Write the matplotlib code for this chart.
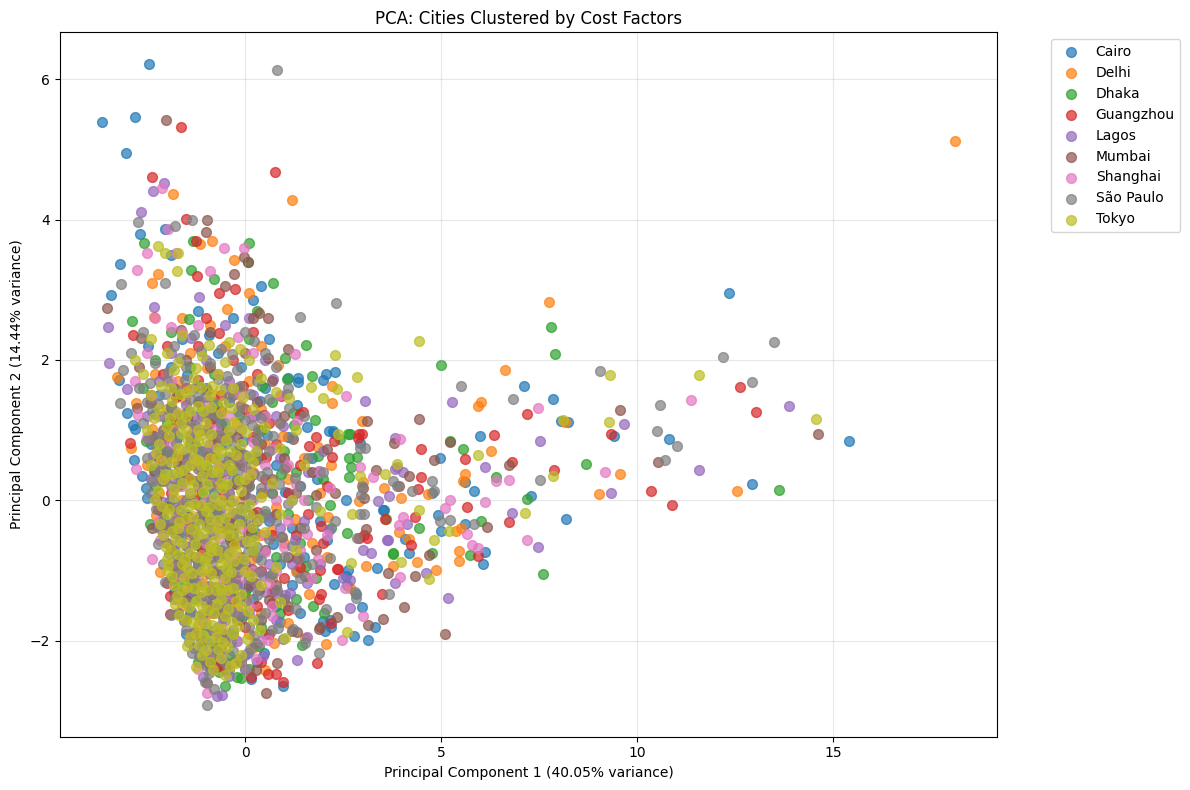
import matplotlib
matplotlib.use("Agg")
import matplotlib.pyplot as plt

cities = ["Cairo", "Delhi", "Dhaka", "Guangzhou", "Lagos", "Mumbai", "Shanghai", "São Paulo", "Tokyo"]

cairo = [(-2.44,6.21),(-3.64,5.39),(-2.80,5.46),(-3.03,4.95),(12.34,2.96),(15.4,0.85),(12.93,0.23),(10.82,0.87),(9.41,0.92),(7.12,1.63),(7.86,1.45),(8.07,1.13),(8.23,1.12),(8.19,-0.27),(7.28,0.06),(5.98,0.92),(4.96,0.61),(5.62,0.26),(5.83,0.14),(4.91,-0.21),(4.99,-0.43),(5.62,-0.34),(6.11,-0.74),(6.06,-0.90),(4.76,0.10),(-2.67,3.80),(-2.04,3.86),(-1.88,3.50),(-3.18,3.36),(-3.41,2.92),(-2.47,2.20),(0.41,3.05),(0.20,2.85),(-3.21,1.72),(-3.00,1.25),(-2.85,1.08),(-2.80,1.02),(-2.82,0.57),(-2.62,0.35),(-2.52,0.18),(-2.49,0.04),(-1.50,-1.90),(0.15,-2.55),(0.97,-2.65),(0.48,-2.18),(2.77,-1.93),(3.13,-1.99),(3.31,-1.80),(2.04,-1.86),(2.16,-1.70),(2.98,-1.52),(2.26,-1.19),(2.60,-1.21),(2.82,-1.33),(3.36,-0.96),(3.51,-0.13),(2.57,0.01),(2.26,0.96),(2.14,0.99),(2.24,0.99),(1.09,1.74),(1.35,1.74),(1.35,1.69),(1.98,1.72),(2.06,1.80),(2.29,1.83),(1.32,1.36),(2.93,0.82),(3.54,-0.14),(4.07,-0.55),(4.17,-0.75),(2.57,-1.08),(2.62,-0.99),(1.98,-1.72),(2.19,-1.80),(1.40,-1.61),(0.89,-1.73),
(-2.2,1.5),(-1.9,1.9),(-1.6,2.3),(-1.3,1.2),(-1.0,1.6),(-0.7,2.1),(-0.4,1.4),(-0.1,1.9),(0.2,1.2),(0.5,1.6),(-2.4,0.8),(-2.0,0.4),(-1.7,0.9),(-1.4,0.3),(-1.1,0.7),(-0.8,0.1),(-0.5,0.8),(-0.2,0.3),(0.1,0.6),(0.4,0.1),(0.8,0.5),(1.1,0.9),(1.4,0.2),(1.7,0.6),(-2.1,-0.3),(-1.8,-0.7),(-1.5,-0.2),(-1.2,-0.9),(-0.9,-0.4),(-0.6,-1.0),(-0.3,-0.5),(0.0,-0.1),(0.3,-0.8),(0.6,-0.3),(0.9,-0.9),(1.2,-0.4),(1.5,-0.8),(1.9,-0.3),(-1.8,-1.3),(-1.4,-1.6),(-1.0,-1.4),(-0.7,-1.8),(-0.4,-1.3),(-0.1,-1.7),(0.2,-1.4),(0.5,-1.9),(0.8,-1.5),(1.2,-1.2),(-1.1,-2.1),(-0.6,-2.3),(-0.2,-2.0),(0.3,-2.3),(-0.3,2.6),(0.6,2.3),(-1.2,2.7),
(-1.74,1.13),(-1.46,0.62),(-1.17,1.41),(-0.88,0.32),(-0.61,1.08),(-0.35,-0.23),(-0.04,0.84),(0.27,-0.47),(0.55,0.93),(-1.93,-0.03),(-1.62,-0.52),(-1.33,-1.21),(-1.05,0.03),(-0.76,-0.68),(-0.47,-1.57),(-0.18,0.53),(0.11,-1.23),(0.38,1.42),(-2.29,1.23),(-2.15,0.67),(-0.92,2.36),(-1.48,1.78),(0.72,-0.62),(1.02,0.12),(1.33,-1.02),(1.58,1.04),(1.83,0.31),(2.08,-0.56),(-0.83,-2.03),(0.08,-2.18)]

delhi = [(18.1,5.12),(1.20,4.28),(-1.83,4.37),(7.76,2.82),(6.62,1.86),(6.03,1.40),(5.93,1.35),(8.16,1.12),(9.55,0.38),(9.03,0.09),(12.54,0.14),(5.62,0.38),(5.57,0.27),(6.28,0.70),(5.37,-0.44),(5.52,-0.40),(5.45,-0.72),(5.45,-0.87),(4.66,0.09),(4.38,-0.88),(4.86,-0.99),(3.54,0.18),(3.99,0.04),(3.00,0.26),(2.90,-0.01),(3.92,-0.45),(4.17,-0.55),(3.77,-0.94),(3.08,-0.94),(2.67,-1.25),(2.06,-2.04),(1.53,-1.96),(0.74,-2.03),(1.09,-1.74),(2.21,1.63),(2.21,1.39),(2.98,1.13),(-1.15,3.65),(-0.84,3.69),(-0.28,3.42),(-2.21,3.22),(-2.37,3.09),(0.10,2.96),(-2.32,2.61),(-3.26,1.76),(-2.77,1.39),(-2.90,0.74),(-2.16,-1.02),
(-2.3,1.8),(-2.0,1.3),(-1.7,1.7),(-1.4,2.1),(-1.1,1.0),(-0.8,1.5),(-0.5,2.2),(-0.2,1.1),(0.1,1.7),(0.4,1.3),(0.9,1.1),(-2.5,0.5),(-2.2,0.1),(-1.9,0.6),(-1.6,0.0),(-1.3,0.5),(-1.0,-0.1),(-0.7,0.4),(-0.4,0.9),(-0.1,0.0),(0.2,0.4),(0.5,0.8),(0.8,-0.1),(1.1,0.3),(1.5,0.6),(1.9,0.1),(2.2,0.5),(-2.0,-0.6),(-1.7,-1.0),(-1.4,-0.5),(-1.1,-1.1),(-0.8,-0.7),(-0.5,-1.2),(-0.2,-0.6),(0.1,-1.0),(0.4,-0.5),(0.7,-1.1),(1.0,-0.6),(1.3,-1.0),(1.7,-0.6),(2.1,-0.8),(-1.6,-1.5),(-1.2,-1.8),(-0.9,-1.6),(-0.5,-2.0),(-0.2,-1.5),(0.1,-1.9),(0.4,-1.6),(0.7,-1.3),(-0.8,-2.2),(-0.3,-2.3),(0.2,-2.1),(-1.6,2.6),(-0.9,2.5),(0.4,2.2),
(-1.83,1.06),(-1.52,1.43),(-1.24,0.77),(-0.96,1.88),(-0.68,0.22),(-0.39,-0.38),(-0.12,1.36),(0.18,-0.83),(0.47,0.11),(-2.06,0.27),(-1.77,-0.27),(-1.47,-1.26),(-1.18,0.13),(-0.89,-1.03),(-0.59,-1.62),(-0.31,0.62),(0.02,-1.37),(0.33,1.02),(-2.38,1.02),(-2.27,-0.21),(0.66,-0.44),(0.97,0.92),(1.28,-0.27),(1.62,-1.33),(1.86,0.76),(2.12,-0.23),(-1.02,-2.27),(0.52,-2.42),(-0.46,2.73),(0.84,1.93)]

dhaka = [(7.79,2.47),(7.91,2.09),(5.01,1.93),(13.61,0.15),(7.61,-1.05),(8.70,0.52),(7.18,0.02),(5.22,0.85),(5.55,0.73),(6.39,0.34),(5.73,-0.78),(6.03,-0.30),(4.76,-0.75),(4.43,-0.40),(3.77,-0.77),(3.59,-0.26),(1.55,2.21),(1.78,1.15),(2.42,0.88),(2.62,0.95),(2.67,0.95),(2.65,0.60),(2.85,0.62),(2.70,0.47),(2.65,0.34),(2.60,-0.47),(3.77,-0.75),(1.70,1.77),(1.22,1.25),(1.02,2.03),(0.10,3.67),(0.08,3.39),(0.71,3.09),(-1.32,3.69),(-1.37,3.28),(-0.79,3.16),(-2.57,3.67),(-2.88,2.55),(-2.52,0.84),(-2.42,-0.34),(-0.66,-2.45),(-0.51,-2.65),(-0.20,-2.51),(-0.10,-2.53),(1.73,-1.50),(1.45,-2.06),(2.01,-1.60),
(-2.6,1.6),(-2.3,2.0),(-2.0,1.1),(-1.7,1.5),(-1.4,1.9),(-1.1,1.3),(-0.8,1.8),(-0.5,1.1),(-0.2,1.6),(0.1,2.3),(0.4,1.0),(0.7,1.4),(-2.3,0.2),(-2.0,0.7),(-1.7,0.2),(-1.4,0.8),(-1.1,0.1),(-0.8,0.6),(-0.5,0.2),(-0.2,0.7),(0.1,0.2),(0.4,0.6),(0.7,0.1),(1.0,0.7),(1.3,0.4),(1.6,0.0),(2.0,0.3),(-1.9,-0.4),(-1.6,-0.8),(-1.3,-0.3),(-1.0,-0.8),(-0.7,-0.2),(-0.4,-0.9),(-0.1,-0.3),(0.2,-0.7),(0.5,-0.2),(0.8,-0.8),(1.1,-0.2),(1.4,-0.6),(1.8,-1.1),(2.2,-0.4),(-1.7,-1.2),(-1.3,-1.4),(-1.0,-1.9),(-0.6,-1.5),(-0.3,-1.9),(0.0,-1.3),(0.4,-1.8),(0.9,-1.6),(1.3,-1.4),(-1.2,-2.3),(-0.4,-2.2),(0.1,-2.4),(0.3,2.7),(-1.9,2.4),
(-1.88,1.32),(-1.57,0.47),(-1.28,1.02),(-0.98,0.48),(-0.71,1.36),(-0.42,-0.52),(-0.14,1.22),(0.16,-0.47),(0.44,1.63),(-2.12,-0.17),(-1.82,-0.93),(-1.53,-1.12),(-1.23,-0.63),(-0.93,0.27),(-0.63,-1.27),(-0.33,0.43),(-0.03,-1.63),(0.27,0.88),(-2.42,1.38),(-2.31,0.42),(0.63,-1.07),(0.93,0.37),(1.24,1.07),(1.56,-0.93),(1.87,0.63),(2.17,-0.07),(-0.77,-2.12),(0.36,-2.07),(-1.42,2.58),(1.08,1.73)]

guangzhou = [(-1.63,5.32),(0.76,4.68),(-2.37,4.60),(-1.50,4.01),(-1.25,3.70),(-1.22,3.19),(-0.25,3.01),(-0.66,2.96),(-2.85,2.35),(-2.93,0.82),(-1.98,-1.18),(-1.91,-1.36),(-1.91,-1.62),(0.59,-2.47),(0.79,-2.47),(0.97,-2.58),(1.83,-2.31),(2.19,-1.74),(2.34,-0.98),(2.37,-0.98),(2.90,0.95),(2.98,0.95),(2.88,0.89),(2.26,0.84),(2.90,-0.54),(3.03,-0.50),(3.10,-0.54),(3.56,-0.26),(3.49,-1.33),(4.22,-0.64),(4.33,-0.24),(4.40,0.16),(4.50,0.33),(4.50,0.73),(5.62,0.59),(6.36,0.93),(7.18,1.23),(6.82,0.55),(7.89,0.43),(5.67,-0.10),(5.95,-0.79),(6.74,-0.31),(9.34,0.95),(12.62,1.62),(13.03,1.26),(10.36,0.13),(10.90,-0.06),(1.40,1.23),(1.48,1.26),(1.88,-1.40),(1.93,-1.33),(1.09,-1.56),(0.69,-1.46),(1.40,-0.95),(1.91,-0.99),
(-2.4,1.4),(-2.1,1.8),(-1.8,1.2),(-1.5,1.6),(-1.2,2.2),(-0.9,1.1),(-0.6,1.5),(-0.3,2.0),(0.0,1.3),(0.3,1.8),(0.6,1.1),(-2.2,0.6),(-1.9,0.1),(-1.6,0.6),(-1.3,0.0),(-1.0,0.4),(-0.7,0.9),(-0.4,0.0),(-0.1,0.5),(0.2,0.9),(0.5,0.3),(0.8,0.8),(1.1,0.1),(1.4,0.5),(1.8,0.9),(2.1,0.2),(-2.0,-0.4),(-1.7,-0.9),(-1.4,-0.4),(-1.1,-0.7),(-0.8,-1.0),(-0.5,-0.4),(-0.2,-0.9),(0.1,-0.4),(0.4,-1.0),(0.7,-0.5),(1.0,-1.1),(1.3,-0.5),(1.6,-0.2),(2.0,-0.6),(-1.6,-1.4),(-1.3,-1.9),(-0.9,-1.5),(-0.6,-1.9),(-0.3,-1.4),(0.0,-1.8),(0.3,-1.5),(0.6,-1.9),(1.0,-1.4),(-0.9,-2.3),(-0.5,-2.4),(0.4,-2.3),(-1.0,2.6),(0.2,2.4),(-2.0,2.2),
(-1.76,1.47),(-1.47,0.33),(-1.19,1.72),(-0.91,0.63),(-0.62,1.27),(-0.33,-0.62),(-0.06,1.63),(0.24,-1.17),(0.53,0.62),(-2.03,0.87),(-1.73,-0.42),(-1.44,-1.07),(-1.14,-0.22),(-0.84,-1.33),(-0.54,0.07),(-0.26,-1.12),(0.04,0.22),(0.31,-0.17),(-2.34,0.92),(-2.21,-0.12),(0.74,-1.27),(1.04,0.47),(1.33,-0.82),(1.63,0.78),(1.93,-0.37),(2.21,0.62),(-0.73,-2.37),(0.16,-2.52),(-0.66,2.38),(0.93,1.48)]

lagos = [(-2.06,4.52),(-2.34,4.40),(-2.65,4.11),(-1.17,2.89),(-2.32,2.75),(-3.49,2.47),(-3.46,1.96),(-3.00,1.59),(-1.07,-2.51),(-0.71,-2.79),(-0.59,-2.77),(1.32,-2.27),(2.67,-1.53),(2.49,-1.11),(2.67,-1.13),(3.21,-0.75),(3.00,-0.70),(3.64,-0.57),(3.38,-0.01),(3.66,0.06),(3.82,0.89),(3.82,0.45),(3.87,0.47),(4.02,0.40),(3.05,1.41),(3.61,-0.57),(4.12,-0.33),(4.61,-1.04),(3.82,-1.18),(5.29,1.40),(7.51,0.84),(6.13,0.48),(6.80,-0.18),(7.48,-0.67),(5.17,-1.39),(9.67,1.09),(9.34,0.10),(11.58,0.43),(13.87,1.35),(1.58,-1.94),(0.81,-1.32),(1.02,-1.35),(1.15,-1.32),
(-2.5,1.2),(-2.2,1.7),(-1.9,2.1),(-1.6,1.1),(-1.3,1.6),(-1.0,2.0),(-0.7,1.2),(-0.4,1.7),(-0.1,1.0),(0.2,1.5),(0.5,2.0),(0.8,1.2),(-2.4,0.3),(-2.1,0.8),(-1.8,0.3),(-1.5,0.7),(-1.2,0.2),(-0.9,0.8),(-0.6,0.3),(-0.3,0.6),(0.0,0.1),(0.3,0.7),(0.6,0.2),(0.9,0.6),(1.2,0.0),(1.6,0.4),(2.0,0.7),(-2.1,-0.5),(-1.8,-0.1),(-1.5,-0.9),(-1.2,-0.5),(-0.9,-0.1),(-0.6,-0.7),(-0.3,-0.2),(0.0,-0.9),(0.3,-0.3),(0.6,-0.9),(0.9,-0.4),(1.2,-0.9),(1.5,-0.3),(1.9,-0.9),(-1.7,-1.6),(-1.4,-1.3),(-1.1,-1.7),(-0.8,-1.3),(-0.5,-1.7),(-0.2,-1.2),(0.1,-1.6),(0.5,-1.3),(0.8,-1.7),(-1.0,-2.2),(-0.4,-2.5),(0.0,-2.2),(-0.5,2.5),(0.1,2.6),
(-1.81,0.97),(-1.51,1.36),(-1.22,0.53),(-0.93,1.27),(-0.64,-0.13),(-0.36,0.97),(-0.08,-0.58),(0.22,0.38),(0.49,-1.08),(-2.08,-0.02),(-1.79,-0.63),(-1.49,-1.37),(-1.19,0.98),(-0.89,-0.82),(-0.61,-1.42),(-0.29,0.23),(0.01,-1.21),(0.29,1.21),(-2.35,0.63),(-2.24,-0.36),(0.67,-0.23),(0.98,1.06),(1.27,-0.57),(1.57,-1.17),(1.88,0.42),(2.14,-0.42),(-0.87,-2.42),(0.47,-2.21),(-1.38,2.31),(0.72,1.73)]

mumbai = [(-2.01,5.42),(-0.97,3.99),(-0.99,3.82),(-0.03,3.47),(0.08,3.39),(-0.28,3.22),(-0.51,3.06),(-3.51,2.74),(-2.65,2.31),(0.59,2.60),(0.36,2.67),(1.09,2.16),(-2.75,1.32),(-2.37,-0.40),(-0.97,-2.31),(-0.97,-2.60),(0.53,-2.74),(0.81,-2.31),(1.88,-1.83),(1.20,-1.86),(1.32,-1.87),(0.25,-2.03),(1.91,-1.80),(2.34,-1.66),(3.13,-1.77),(3.51,-1.69),(4.05,-1.52),(3.64,-1.04),(4.33,-1.08),(4.68,-0.78),(3.08,-0.41),(3.03,0.04),(3.10,1.13),(3.33,0.43),(3.79,0.82),(3.92,0.21),(4.17,0.35),(4.43,1.16),(4.83,0.57),(5.23,0.83),(6.16,-0.38),(6.72,0.50),(9.57,1.29),(10.54,0.54),(14.60,0.95),(5.09,-1.90),(3.0,0.18),
(-2.7,1.9),(-2.4,1.5),(-2.1,1.0),(-1.8,1.6),(-1.5,2.0),(-1.2,1.4),(-0.9,1.9),(-0.6,1.0),(-0.3,1.5),(0.0,2.1),(0.3,1.4),(0.7,1.7),(1.0,1.2),(-2.3,0.4),(-2.0,-0.1),(-1.7,0.5),(-1.4,0.9),(-1.1,0.4),(-0.8,-0.1),(-0.5,0.5),(-0.2,0.9),(0.1,0.3),(0.4,0.8),(0.7,0.3),(1.0,0.6),(1.3,0.1),(1.7,0.4),(2.3,0.1),(-1.9,-0.7),(-1.6,-0.3),(-1.3,-0.8),(-1.0,-0.3),(-0.7,-0.8),(-0.4,-0.3),(-0.1,-0.8),(0.2,-0.2),(0.5,-0.7),(0.8,-0.2),(1.1,-0.8),(1.4,-0.4),(1.8,-0.7),(-1.8,-1.1),(-1.5,-1.7),(-1.2,-1.2),(-0.8,-1.6),(-0.5,-1.1),(-0.2,-1.7),(0.1,-1.2),(0.4,-1.7),(0.8,-1.2),(1.1,-1.5),(-1.1,-2.0),(-0.6,-2.1),(-0.1,-2.3),(-0.9,2.4),(0.2,2.6),
(-1.86,0.67),(-1.56,1.22),(-1.26,0.27),(-0.97,1.57),(-0.67,0.47),(-0.38,-0.57),(-0.11,0.67),(0.19,-0.98),(0.48,1.22),(-2.09,0.52),(-1.81,-0.42),(-1.51,-1.42),(-1.21,-0.07),(-0.92,-1.22),(-0.63,-0.38),(-0.33,-1.38),(-0.03,0.07),(0.28,0.57),(-2.41,0.87),(-2.26,0.02),(0.62,-1.42),(0.94,-0.52),(1.23,0.87),(1.53,-1.07),(1.82,0.07),(2.08,0.73),(-0.91,-2.32),(0.27,-2.42),(-1.63,2.42),(0.58,2.03),
(-1.37,1.13),(-0.78,0.83),(-1.68,-0.88),(-0.53,-1.57),(0.07,-0.47),(-1.07,-0.62),(-0.24,0.23),(-1.42,-0.23),(0.36,-1.28),(-0.82,1.17)]

shanghai = [(-2.11,4.45),(-1.96,3.86),(-0.53,3.59),(-0.03,3.59),(-2.49,3.53),(-1.76,3.52),(-2.75,3.28),(-0.89,3.26),(-2.72,1.22),(-2.77,0.44),(-2.37,-0.84),(-0.97,-2.75),(0.69,-1.65),(0.59,-1.99),(2.47,-1.99),(3.00,-1.65),(2.54,-1.25),(1.32,1.13),(2.57,1.49),(1.27,2.09),(2.93,0.47),(3.26,0.33),(3.94,0.88),(3.92,-0.35),(4.02,-0.24),(3.94,-1.09),(5.22,0.00),(5.11,-0.11),(6.11,-0.03),(5.65,-0.48),(5.78,-0.64),(5.93,-0.68),(6.39,0.27),(6.72,0.29),(7.48,1.32),(7.18,-0.57),(9.19,0.40),(11.37,1.43),
(-2.8,1.7),(-2.5,2.1),(-2.2,1.2),(-1.9,1.7),(-1.6,2.4),(-1.3,1.0),(-1.0,1.4),(-0.7,1.8),(-0.4,1.2),(-0.1,1.5),(0.2,2.1),(0.5,1.2),(0.9,1.5),(-2.5,0.9),(-2.2,0.3),(-1.9,0.8),(-1.6,0.2),(-1.3,0.6),(-1.0,0.0),(-0.7,0.5),(-0.4,0.1),(-0.1,0.6),(0.2,0.0),(0.5,0.5),(0.8,0.0),(1.1,0.5),(1.5,0.0),(1.9,0.4),(-2.2,-0.3),(-1.9,-0.9),(-1.6,-0.4),(-1.3,-1.0),(-1.0,-0.6),(-0.7,-0.3),(-0.4,-0.8),(-0.1,-0.4),(0.2,-1.0),(0.5,-0.5),(0.8,-1.0),(1.1,-0.3),(1.4,-0.7),(1.7,-1.1),(2.1,-0.5),(-1.7,-1.4),(-1.4,-1.9),(-1.1,-1.4),(-0.8,-1.9),(-0.5,-1.5),(-0.2,-2.0),(0.1,-1.5),(0.4,-2.0),(0.7,-1.5),(-1.2,-2.4),(-0.6,-2.2),(0.0,-2.4),(-2.3,2.6),(-1.2,2.5),
(-1.79,1.27),(-1.49,0.53),(-1.21,1.18),(-0.94,0.77),(-0.66,-0.53),(-0.37,1.62),(-0.09,-1.07),(0.21,0.83),(0.51,-0.73),(-2.04,0.56),(-1.76,-0.22),(-1.46,-0.67),(-1.16,-1.18),(-0.86,0.32),(-0.57,-1.12),(-0.27,-0.18),(0.04,0.42),(0.32,-1.22),(-2.36,1.47),(-2.18,-0.57),(0.69,0.73),(0.99,-0.67),(1.29,0.23),(1.59,-0.48),(1.86,-0.83),(2.16,0.17),(-0.95,-2.17),(0.27,-2.26),(-1.88,2.47),(-0.17,2.33),(-1.33,-0.27),(-0.73,1.02),(-1.02,-1.73),(-0.43,-1.37),(-1.62,-1.07),
(-0.52,0.37),(-1.12,0.42),(-0.27,-0.78),(-0.83,-0.43),(-1.42,0.93),(-0.62,-1.78),(0.12,1.18),(-1.83,0.13),(-0.18,-1.58),(0.62,-1.17)]

sao_paulo = [(0.81,6.13),(-2.72,3.96),(-1.78,3.91),(-1.35,4.00),(-2.04,3.09),(-3.16,3.08),(1.40,2.61),(2.32,2.81),(-3.18,1.39),(-1.35,-2.18),(-0.97,-2.91),(1.88,-2.18),(0.97,-1.97),(0.84,-1.82),(1.22,-1.83),(0.33,-1.69),(1.53,-2.03),(2.06,-1.55),(2.82,-1.39),(2.80,-1.31),(3.66,-1.33),(2.93,-0.20),(3.03,-0.20),(2.85,-0.54),(2.16,-0.82),(3.05,0.74),(2.93,0.74),(2.98,0.20),(2.95,0.07),(3.77,0.27),(3.87,0.21),(4.27,0.13),(4.78,0.27),(4.83,0.13),(4.96,-0.30),(5.22,-0.28),(5.83,-0.33),(5.52,1.63),(6.83,1.45),(7.53,0.29),(9.05,1.84),(12.19,2.04),(13.49,2.26),(12.93,1.69),(10.59,1.36),(10.51,0.99),(11.02,0.78),(10.71,0.57),(1.07,1.52),
(-2.6,2.4),(-1.3,2.35),(0.0,2.4),(-2.9,2.1),(-1.8,2.2),(-0.6,2.15),(0.5,2.1),(-3.1,1.85),(-2.3,1.95),(-1.5,1.9),(-0.9,1.95),(-0.2,1.85),(0.8,1.9),(-2.7,1.6),(-2.0,1.7),(-1.2,1.65),(-0.5,1.6),(0.3,1.7),(1.1,1.6),(-2.5,1.4),(-1.9,1.35),(-1.4,1.45),(-0.8,1.4),(-0.1,1.35),(0.6,1.45),(-2.6,1.1),(-2.1,1.2),(-1.6,1.1),(-1.1,1.2),(-0.6,1.1),(0.0,1.15),(0.9,1.1),(1.5,1.2),(-2.3,0.9),(-1.8,0.95),(-1.3,0.85),(-0.9,0.95),(-0.4,0.9),(0.3,0.85),(1.2,0.9),(-2.5,0.6),(-2.0,0.7),(-1.5,0.6),(-1.0,0.7),(-0.5,0.6),(0.0,0.65),(0.6,0.7),(1.6,0.6),(-2.2,0.4),(-1.7,0.35),(-1.2,0.45),(-0.7,0.35),(-0.2,0.4),(0.4,0.35),(1.0,0.45),(2.0,0.4),(-2.4,0.1),(-1.9,0.2),(-1.4,0.1),(-0.9,0.2),(-0.4,0.1),(0.1,0.2),(0.7,0.1),(1.4,0.2),(-2.1,-0.1),(-1.6,-0.05),(-1.1,-0.15),(-0.6,-0.05),(-0.1,-0.1),(0.5,-0.15),(1.1,-0.05),(1.8,-0.1),(-2.2,-0.4),(-1.8,-0.3),(-1.3,-0.4),(-0.8,-0.3),(-0.3,-0.4),(0.2,-0.35),(0.8,-0.3),(1.5,-0.4),(2.3,-0.3),(-2.0,-0.6),(-1.5,-0.65),(-1.0,-0.55),(-0.5,-0.65),(0.0,-0.6),(0.6,-0.55),(1.2,-0.65),(-2.1,-0.9),(-1.7,-0.8),(-1.2,-0.9),(-0.7,-0.8),(-0.2,-0.9),(0.4,-0.85),(1.0,-0.8),(1.7,-0.9),(-1.9,-1.1),(-1.4,-1.15),(-0.9,-1.05),(-0.4,-1.15),(0.1,-1.1),(0.7,-1.05),(1.4,-1.1),(-1.8,-1.4),(-1.3,-1.3),(-0.8,-1.4),(-0.3,-1.3),(0.3,-1.35),(1.0,-1.4),(-1.7,-1.6),(-1.2,-1.65),(-0.7,-1.55),(-0.2,-1.65),(0.5,-1.6),(1.3,-1.55),(-1.5,-1.85),(-1.0,-1.8),(-0.5,-1.9),(0.1,-1.8),(0.7,-1.85),(-1.3,-2.1),(-0.8,-2.05),(-0.3,-2.15),(0.3,-2.05),(-1.0,-2.35),(-0.5,-2.3),(0.0,-2.4),(-1.5,0.0),(-0.8,-0.2),(-1.2,0.7),(-0.5,-1.0),(-1.7,-0.5),(-0.3,0.3),(-1.0,1.0),(-0.9,-1.3),(-1.3,-0.6),(-0.6,0.8),(0.0,-0.3),(-1.4,-1.0),
(-2.05,1.52),(-1.78,1.23),(-1.52,1.72),(-1.27,1.08),(-1.02,1.47),(-0.73,1.22),(-0.46,1.77),(-0.17,1.28),(0.12,1.52),(0.42,1.18),(-2.27,0.77),(-2.01,0.52),(-1.76,0.82),(-1.51,0.48),(-1.26,0.74),(-1.01,0.43),(-0.76,0.68),(-0.51,0.42),(-0.26,0.77),(0.02,0.48),(0.28,0.62),(0.57,0.41),(-2.12,0.27),(-1.87,0.02),(-1.62,0.23),(-1.37,-0.02),(-1.12,0.28),(-0.87,-0.01),(-0.62,0.22),(-0.37,-0.03),(-0.12,0.27),(0.14,0.02),(0.41,0.18),(-2.07,-0.27),(-1.82,-0.47),(-1.57,-0.24),(-1.32,-0.48),(-1.07,-0.22),(-0.82,-0.48),(-0.57,-0.26),(-0.32,-0.47),(-0.07,-0.23),(0.19,-0.52),(0.47,-0.24),(-1.93,-0.76),(-1.68,-1.02),(-1.43,-0.78),(-1.18,-1.01),(-0.93,-0.73),(-0.68,-1.04),(-0.43,-0.73),(-0.18,-1.02),(0.08,-0.74),(0.35,-1.02),(-1.74,-1.27),(-1.49,-1.46),(-1.24,-1.18),(-0.99,-1.48),(-0.74,-1.23),(-0.49,-1.47),(-0.24,-1.19),(0.02,-1.43),(0.28,-1.17),(-1.56,-1.72),(-1.31,-1.88),(-1.06,-1.62),(-0.81,-1.86),(-0.56,-1.68),(-0.31,-1.84),(-0.06,-1.62),(0.22,-1.93),(-1.17,-2.22),(-0.92,-2.46),(-0.67,-2.18),(-0.42,-2.42),(-0.16,-2.26),(0.12,-2.12),(-2.43,1.67),(-2.36,1.28),(-2.48,0.88),(-2.31,0.46),(-2.27,-0.12),(-2.23,-0.62),(-2.04,-1.16),(-1.88,-1.63),(-1.67,2.03),(-1.13,2.13),(-0.33,2.08),(0.23,2.27),(0.71,0.92),(0.86,0.23),(0.93,-0.52),(0.82,-1.27),(1.27,0.32),(1.37,-0.82),(1.13,1.32),
(-2.21,1.37),(-1.97,1.83),(-1.73,1.57),(-1.46,1.27),(-1.19,1.52),(-0.94,1.24),(-0.68,1.73),(-0.41,1.47),(-0.14,1.63),(0.18,1.07),(-2.38,0.27),(-2.14,0.93),(-1.91,0.66),(-1.66,0.38),(-1.41,0.92),(-1.16,0.57),(-0.92,0.38),(-0.67,0.93),(-0.42,0.62),(-0.17,0.52),(0.34,0.97),(-1.97,-0.36),(-1.73,-0.13),(-1.47,-0.43),(-1.22,-0.28),(-0.97,-0.37),(-0.72,-0.13),(-0.47,-0.37),(-0.23,-0.18),(0.31,-0.66),(-1.83,-0.93),(-1.58,-0.83),(-1.33,-1.07),(-1.08,-0.83),(-0.83,-0.92),(-0.58,-0.78),(-0.33,-1.03),(-0.08,-0.86),(-1.63,-1.33),(-1.38,-1.57),(-1.12,-1.38),(-0.87,-1.58),(-0.62,-1.37),(-0.37,-1.58),(-0.12,-1.38),(-1.42,-2.01),(-1.14,-1.96),(-0.88,-2.21),(-0.63,-1.98),(-0.37,-2.02),(-1.02,-2.59),(-0.78,-2.68)]

tokyo = [(-2.21,3.63),(-2.04,3.53),(-1.70,3.52),(-1.73,3.26),(2.29,2.07),(4.43,2.27),(2.85,1.76),(1.68,1.62),(1.98,1.46),(2.34,1.59),(2.37,0.95),(1.12,1.46),(2.72,-0.20),(2.70,-0.89),(2.60,-1.87),(2.93,0.35),(3.56,0.38),(3.87,0.52),(3.97,-0.88),(4.43,-0.14),(4.81,-0.57),(4.68,-1.12),(5.95,0.65),(5.19,-0.44),(7.15,-0.18),(7.86,0.35),(8.10,1.15),(9.31,1.79),(9.29,1.11),(11.58,1.79),(14.55,1.16),(-0.51,-2.48),(1.02,-1.96),(0.38,-1.84),
(-2.4,2.3),(-1.6,2.35),(-0.4,2.25),(-2.8,2.0),(-2.0,2.1),(-1.1,2.05),(0.1,2.0),(-2.6,1.8),(-1.8,1.85),(-1.3,1.75),(-0.7,1.8),(0.4,1.75),(-2.4,1.5),(-1.9,1.6),(-1.5,1.55),(-0.9,1.5),(-0.3,1.6),(0.8,1.55),(-2.2,1.3),(-1.7,1.25),(-1.2,1.35),(-0.6,1.25),(0.2,1.3),(-2.5,1.0),(-2.0,1.05),(-1.5,1.0),(-1.0,1.1),(-0.4,1.0),(0.5,1.05),(1.3,1.0),(-2.2,0.8),(-1.7,0.75),(-1.2,0.85),(-0.7,0.75),(-0.1,0.8),(0.9,0.75),(-2.4,0.5),(-1.9,0.55),(-1.4,0.5),(-0.9,0.6),(-0.4,0.5),(0.2,0.55),(1.5,0.5),(-2.1,0.3),(-1.6,0.25),(-1.1,0.35),(-0.6,0.25),(0.0,0.3),(0.7,0.25),(-2.3,0.0),(-1.8,0.05),(-1.3,-0.05),(-0.8,0.05),(-0.3,0.0),(0.4,0.05),(1.2,0.0),(-2.0,-0.2),(-1.5,-0.25),(-1.0,-0.15),(-0.5,-0.25),(0.1,-0.2),(0.9,-0.2),(1.9,-0.15),(-2.1,-0.5),(-1.7,-0.4),(-1.2,-0.5),(-0.7,-0.4),(-0.2,-0.5),(0.5,-0.45),(-1.9,-0.7),(-1.4,-0.75),(-0.9,-0.65),(-0.4,-0.75),(0.2,-0.7),(1.3,-0.7),(-2.0,-1.0),(-1.6,-0.9),(-1.1,-1.0),(-0.6,-0.9),(0.0,-1.0),(0.8,-0.95),(-1.8,-1.2),(-1.3,-1.25),(-0.8,-1.15),(-0.3,-1.25),(0.4,-1.2),(-1.6,-1.45),(-1.1,-1.5),(-0.6,-1.4),(-0.1,-1.5),(0.9,-1.45),(-1.5,-1.7),(-1.0,-1.75),(-0.5,-1.65),(0.2,-1.7),(-1.4,-1.95),(-0.9,-2.0),(-0.3,-1.9),(-1.1,-2.2),(-0.6,-2.25),(-0.1,-2.2),(-1.4,0.1),(-0.9,-0.4),(-1.2,1.0),(-0.5,-1.1),(-1.6,-0.6),(-0.7,0.4),(-1.0,-0.8),(-1.3,0.6),(-0.8,-1.6),(-1.5,1.2),(-1.1,-1.2),(-0.6,0.0),(-1.7,0.4),(-0.4,-0.4),(-1.0,0.5),(-0.9,-2.3),
(-1.85,1.42),(-1.62,1.12),(-1.37,1.58),(-1.08,1.27),(-0.83,1.63),(-0.57,1.38),(-0.28,1.12),(-0.05,1.47),(-1.95,0.92),(-1.73,0.63),(-1.48,0.88),(-1.21,0.58),(-0.97,0.83),(-0.74,0.61),(-0.49,0.86),(-0.22,0.64),(0.03,0.97),(0.27,0.71),(-2.05,0.38),(-1.81,0.16),(-1.57,0.43),(-1.33,0.22),(-1.07,0.12),(-0.84,0.41),(-0.58,0.17),(-0.33,0.43),(-0.09,0.14),(0.16,0.38),(-1.93,-0.12),(-1.69,-0.31),(-1.44,-0.08),(-1.18,-0.33),(-0.93,-0.09),(-0.69,-0.28),(-0.44,-0.06),(-0.16,-0.34),(0.09,-0.05),(0.33,-0.27),(-2.02,-0.66),(-1.77,-0.57),(-1.52,-0.83),(-1.27,-0.62),(-1.03,-0.86),(-0.78,-0.58),(-0.53,-0.82),(-0.27,-0.63),(-0.02,-0.84),(0.24,-0.56),(-1.86,-1.07),(-1.61,-1.28),(-1.36,-1.04),(-1.12,-1.31),(-0.87,-1.03),(-0.62,-1.26),(-0.37,-1.02),(-0.11,-1.33),(0.14,-1.08),(-1.68,-1.63),(-1.43,-1.52),(-1.19,-1.78),(-0.94,-1.56),(-0.69,-1.82),(-0.44,-1.54),(-0.19,-1.79),(0.07,-1.57),(-1.49,-2.08),(-1.24,-1.91),(-0.99,-2.13),(-0.74,-1.94),(-0.47,-2.09),(-0.22,-2.31),(0.05,-1.98),(-1.26,-2.37),(-0.81,-2.42),(-0.38,-2.36),(-2.13,1.63),(-1.71,1.97),(-1.24,1.88),(-0.92,2.22),(-0.52,1.97),(-0.14,2.16),(-2.33,1.17),(-2.28,0.67),(-2.21,0.13),(-2.17,-0.33),(-1.97,-0.92),(-1.78,-1.48),(-1.58,0.73),(-1.16,0.93),(-0.62,0.69),(-1.32,-0.22),(-0.86,-0.72),(-0.41,-0.49),(-1.55,-1.11),(-0.73,-1.28),(-0.29,-0.87),(-1.06,-0.46),(-0.98,0.24),(-0.46,0.24),(-1.41,0.31),(-0.67,-0.07),(-1.14,-1.63),(-0.58,-2.02),
(-1.92,1.18),(-1.66,1.51),(-1.41,1.27),(-1.13,1.62),(-0.87,1.33),(-0.63,1.57),(-0.36,1.31),(-0.11,1.03),(-2.15,0.58),(-1.86,0.37),(-1.63,0.96),(-1.36,0.73),(-1.11,0.51),(-0.88,0.94),(-0.66,0.47),(-0.38,0.71),(-0.16,0.29),(0.11,0.63),(-2.11,-0.08),(-1.87,-0.43),(-1.62,-0.13),(-1.38,-0.41),(-1.13,-0.07),(-0.89,-0.27),(-0.63,-0.46),(-0.39,-0.17),(-0.13,-0.12),(0.18,-0.38),(-1.98,-0.83),(-1.72,-0.76),(-1.47,-0.97),(-1.23,-0.81),(-0.98,-0.97),(-0.72,-0.71),(-0.48,-0.97),(-0.22,-0.72),(0.06,-0.58),(-1.73,-1.36),(-1.48,-1.23),(-1.24,-1.43),(-0.97,-1.27),(-0.71,-1.47),(-0.47,-1.28),(-0.24,-1.43),(-1.33,-1.73),(-1.08,-1.92),(-0.83,-1.77),(-0.57,-1.83),(-0.33,-1.73),(-0.69,-2.12),(-1.18,-2.06)]

city_points = [cairo, delhi, dhaka, guangzhou, lagos, mumbai, shanghai, sao_paulo, tokyo]

fig, ax = plt.subplots(figsize=(12, 8), dpi=100)
for name, pts in zip(cities, city_points):
    xs = [p[0] for p in pts]
    ys = [p[1] for p in pts]
    ax.scatter(xs, ys, s=50, alpha=0.7, label=name)

ax.set_title("PCA: Cities Clustered by Cost Factors")
ax.set_xlabel("Principal Component 1 (40.05% variance)")
ax.set_ylabel("Principal Component 2 (14.44% variance)")
ax.grid(True, alpha=0.3)
ax.legend(bbox_to_anchor=(1.05, 1), loc="upper left")
fig.tight_layout()
fig.savefig("out.png", dpi=100, bbox_inches="tight")
